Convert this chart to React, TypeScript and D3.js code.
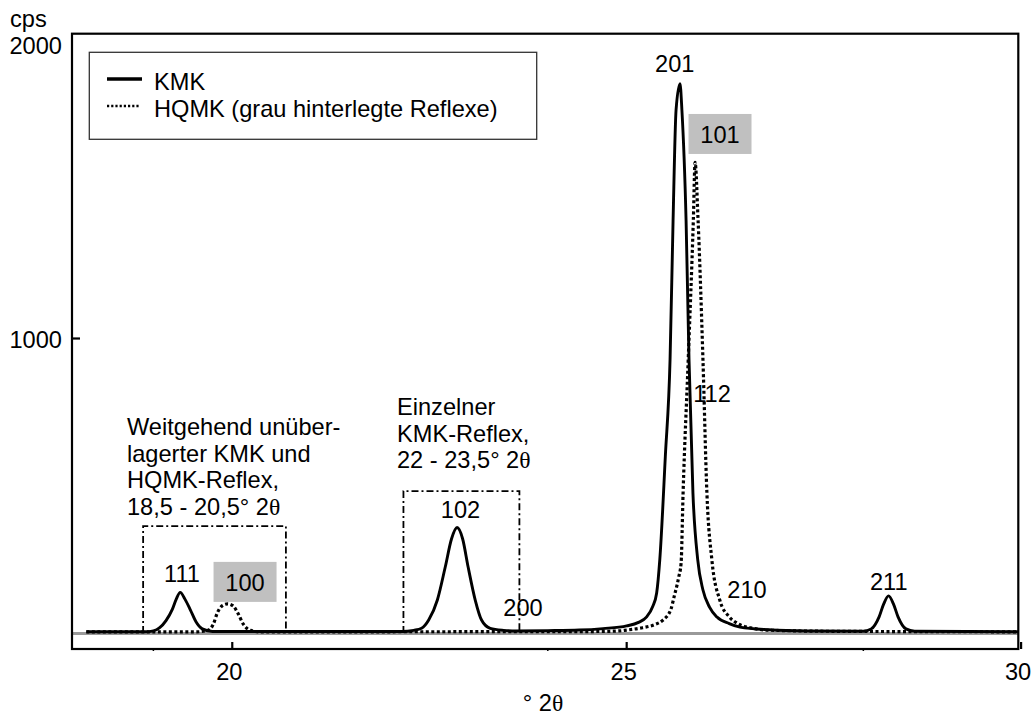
import React from "react";
import * as d3 from "d3";

// ---- data ----
const KMK_2THETA = [18.15, 18.9, 19.0, 19.08, 19.16, 19.24, 19.29, 19.34, 19.4, 19.47, 19.54, 19.62, 19.75,
  22.15, 22.3, 22.4, 22.49, 22.6, 22.7, 22.78, 22.85, 22.92, 22.99, 23.08, 23.16, 23.27, 23.44, 23.6,
  24.0, 24.4, 24.7, 25.0, 25.15, 25.25, 25.33, 25.38, 25.42, 25.49, 25.55, 25.588, 25.626, 25.676,
  25.7, 25.753, 25.79, 25.84, 25.9, 25.967, 26.05, 26.145, 26.3, 26.436, 26.8, 27.3,
  28.0, 28.1, 28.2, 28.26, 28.32, 28.38, 28.44, 28.54, 28.65, 30.0];
const KMK_CPS = [4, 4, 7, 18, 42, 80, 115, 138, 115, 78, 38, 14, 5,
  5, 9, 16, 44, 112, 224, 320, 358, 320, 224, 112, 44, 16, 9, 7,
  8, 10, 15, 24, 36, 54, 90, 136, 250, 600, 930, 1400, 1776, 1865,
  1776, 1400, 930, 475, 250, 146, 88, 54, 32, 20, 11, 7,
  6, 14, 55, 100, 126, 100, 55, 14, 6, 4];

const HQMK_2THETA = [18.15, 19.55, 19.69, 19.76, 19.81, 19.87, 19.94, 20.01, 20.07, 20.14, 20.23, 20.35,
  24.6, 24.9, 25.0, 25.2, 25.35, 25.46, 25.56, 25.6, 25.66, 25.69, 25.715, 25.78, 25.845, 25.867,
  25.905, 25.967, 26.017, 26.08, 26.18, 26.3, 26.396, 26.6, 26.776, 27.5, 30.0];
const HQMK_CPS = [4, 4, 9, 30, 68, 92, 99, 92, 68, 30, 9, 4,
  5, 7, 10, 18, 28, 44, 80, 122, 190, 238, 475, 927, 1402, 1598,
  1402, 927, 475, 248, 112, 55, 34, 16, 10, 6, 4];

const X_TICKS = [20, 25, 30];
const X_MINOR = [19, 24, 28];
const Y_TICKS = [1000, 2000];

const REFLEX_TEXT = ["111", "100", "102", "200", "201", "101", "112", "210", "211"];
const REFLEX_2THETA = [19.363, 20.162, 22.893, 23.686, 25.609, 26.183, 26.082, 26.526, 28.322];
const REFLEX_CPS = [174, 144, 390, 58, 1906, 1665, 783, 119, 146];
const REFLEX_HQMK = [false, true, false, false, false, true, false, false, false];

// dash-dot regions [from, to, top cps]
const REGION_FROM = [18.87, 22.17];
const REGION_TO = [20.68, 23.64];
const REGION_TOP = [363, 482];

const FONT = "'Liberation Sans', Arial, Helvetica, sans-serif";
const SERIF = "'Liberation Serif', 'Times New Roman', serif";
const FS = 23.6;

export default function App() {
  const W = 1033, H = 715;
  const frame = { l: 72, t: 33.7, r: 1018.3, b: 649 };
  const x = d3.scaleLinear().domain([18, 30]).range([74.5, 1021.1]);
  const y = d3.scaleLinear().domain([0, 2000]).range([633, 44]);

  const line = d3.line<[number, number]>()
    .x((d) => x(d[0]))
    .y((d) => y(d[1]))
    .curve(d3.curveMonotoneX);

  const kmk = KMK_2THETA.map((t, i) => [t, KMK_CPS[i]] as [number, number]);
  const hqmk = HQMK_2THETA.map((t, i) => [t, HQMK_CPS[i]] as [number, number]);

  const theta = (s: string) => <tspan fontFamily={SERIF}>{s}</tspan>;

  return (
    <svg width={W} height={H} style={{ position: "absolute", left: 0, top: 0, background: "#fff" }}
      fontFamily={FONT} fontSize={FS}>
      <defs>
        <clipPath id="plotclip">
          <rect x={frame.l} y={frame.t} width={frame.r - frame.l} height={frame.b - frame.t} />
        </clipPath>
      </defs>
      <rect x={0} y={0} width={W} height={H} fill="#fff" />

      {/* zero line */}
      <line x1={frame.l} x2={frame.r} y1={y(0) + 0.5} y2={y(0) + 0.5} stroke="#999" strokeWidth={3.2} />

      {/* dash-dot regions */}
      {REGION_FROM.map((f, i) => {
        const x0 = x(f), x1 = x(REGION_TO[i]), yt = y(REGION_TOP[i]), yb = y(0);
        return (
          <path key={"r" + i} d={`M${x0},${yb}V${yt}H${x1}V${yb}`} fill="none" stroke="#000"
            strokeWidth={1.8} strokeDasharray="7,3,2,3" />
        );
      })}

      <g clipPath="url(#plotclip)">
        <path d={line(hqmk) || ""} fill="none" stroke="#000" strokeWidth={3.2} strokeDasharray="3,2.5" />
        <path d={line(kmk) || ""} fill="none" stroke="#000" strokeWidth={2.9} strokeLinejoin="round" />
      </g>

      {/* frame */}
      <rect x={frame.l} y={frame.t} width={frame.r - frame.l} height={frame.b - frame.t}
        fill="none" stroke="#000" strokeWidth={2.2} />

      {/* x ticks */}
      {X_TICKS.map((v) => (
        <g key={"x" + v}>
          <line x1={x(v)} x2={x(v)} y1={frame.b} y2={frame.b - 7} stroke="#000" strokeWidth={2.2} />
          <text x={x(v) - 3} y={680} textAnchor="middle">{v}</text>
        </g>
      ))}
      {X_MINOR.map((v) => (
        <line key={"m" + v} x1={x(v)} x2={x(v)} y1={frame.b} y2={frame.b + 2} stroke="#000" strokeWidth={1.5} />
      ))}
      <text x={543} y={711} textAnchor="middle">° 2{theta("θ")}</text>

      {/* y ticks */}
      {Y_TICKS.map((v) => (
        <g key={"y" + v}>
          {v === 1000 && <line x1={frame.l} x2={frame.l + 8} y1={y(v)} y2={y(v)} stroke="#000" strokeWidth={2.2} />}
          <text x={62} y={y(v) + 9.5} textAnchor="end">{v}</text>
        </g>
      ))}
      <text x={10} y={27}>cps</text>

      {/* legend */}
      <rect x={89.3} y={52.3} width={447.4} height={87} fill="#fff" stroke="#333" strokeWidth={1.3} />
      <line x1={107} x2={142} y1={79} y2={79} stroke="#000" strokeWidth={3.5} />
      <line x1={107} x2={139} y1={106} y2={106} stroke="#000" strokeWidth={2.4} strokeDasharray="2.2,2" />
      <text x={154} y={90}>KMK</text>
      <text x={154} y={117}>HQMK (grau hinterlegte Reflexe)</text>

      {/* reflex labels */}
      {REFLEX_TEXT.map((t, i) => {
        const cx = x(REFLEX_2THETA[i]);
        const by = y(REFLEX_CPS[i]);
        return (
          <g key={"l" + i}>
            {REFLEX_HQMK[i] && (
              <rect x={cx - 31.5} y={by - 28.7} width={63} height={40} fill="#c0c0c0" />
            )}
            <text x={cx} y={by} textAnchor="middle">{t}</text>
          </g>
        );
      })}

      {/* region annotations */}
      <text x={127} y={435}>Weitgehend unüber-</text>
      <text x={127} y={461.5}>lagerter KMK und</text>
      <text x={127} y={488}>HQMK-Reflex,</text>
      <text x={127} y={514.5}>18,5 - 20,5° 2{theta("θ")}</text>

      <text x={397} y={415}>Einzelner</text>
      <text x={397} y={441.5}>KMK-Reflex,</text>
      <text x={397} y={468}>22 - 23,5° 2{theta("θ")}</text>
    </svg>
  );
}
